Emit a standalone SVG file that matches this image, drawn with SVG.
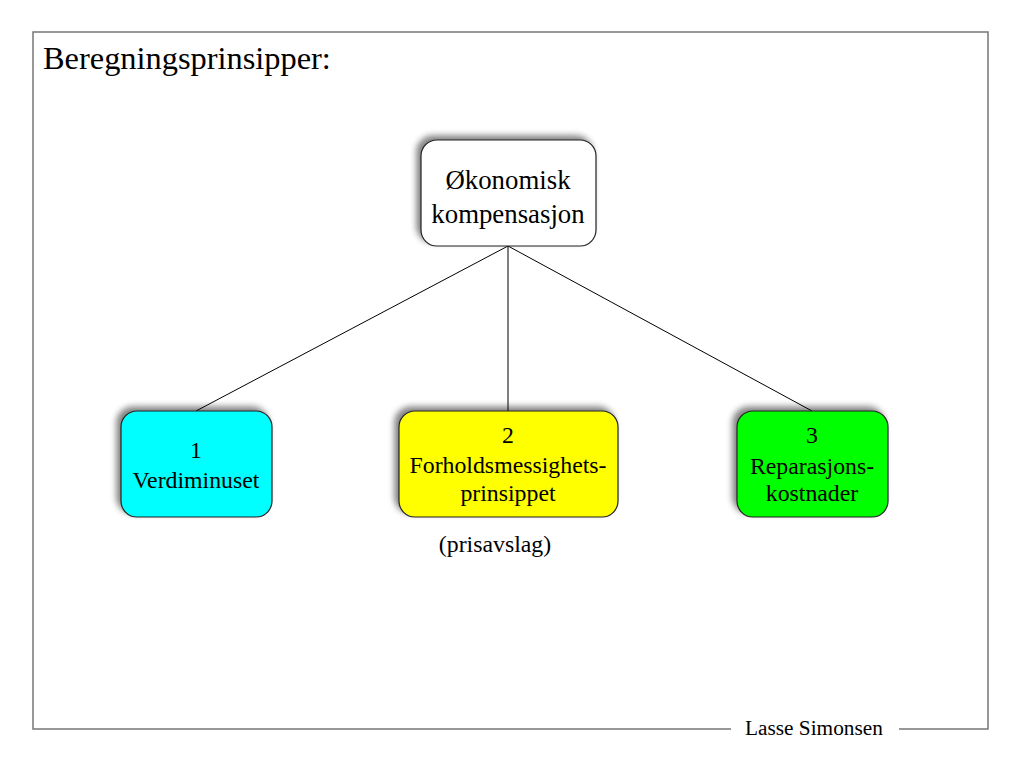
<svg xmlns="http://www.w3.org/2000/svg" width="1023" height="762" viewBox="0 0 1023 762">
<defs>
<style>
.conn{stroke:#000;stroke-width:1;fill:none}
.frame{stroke:#777;stroke-width:1.5;fill:none}
.node{stroke:#222;stroke-width:1.2}
.nt{font-size:23.8px;text-anchor:middle}
</style>
<filter id="sh" x="-20%" y="-20%" width="140%" height="140%">
<feGaussianBlur in="SourceAlpha" stdDeviation="3"/>
<feOffset dx="-4" dy="-4" result="b"/>
<feComponentTransfer><feFuncA type="linear" slope="0.5"/></feComponentTransfer>
<feMerge><feMergeNode/><feMergeNode in="SourceGraphic"/></feMerge>
</filter>
</defs>
<rect width="1023" height="762" fill="#fff"/>
<path class="frame" d="M731 729 H33 V32 H988 V729 H899"/>
<g font-family="'Liberation Serif', 'Times New Roman', 'DejaVu Serif', serif" fill="#000">
<text x="43" y="69" font-size="32.4">Beregningsprinsipper:</text>
<text x="745" y="735" font-size="21.3">Lasse Simonsen</text>
<g id="connectors">
<line class="conn" x1="508" y1="246" x2="196" y2="411"/>
<line class="conn" x1="508" y1="246" x2="508" y2="411"/>
<line class="conn" x1="508" y1="246" x2="812" y2="411"/>
</g>
<g id="top">
<rect class="node" x="421" y="140" width="175" height="106" rx="16" fill="#fff" filter="url(#sh)"/>
<text x="508" y="189" font-size="26.8" text-anchor="middle">Økonomisk</text>
<text x="508" y="223" font-size="26.8" text-anchor="middle">kompensasjon</text>
</g>
<g id="n1">
<rect class="node" x="121" y="411" width="151" height="106" rx="16" fill="#00ffff" filter="url(#sh)"/>
<text class="nt" x="196" y="458">1</text>
<text class="nt" x="196" y="488">Verdiminuset</text>
</g>
<g id="n2">
<rect class="node" x="399" y="411" width="219" height="106" rx="16" fill="#ffff00" filter="url(#sh)"/>
<text class="nt" x="508" y="443">2</text>
<text class="nt" x="508" y="473">Forholdsmessighets-</text>
<text class="nt" x="508" y="501">prinsippet</text>
</g>
<text x="495" y="552" font-size="23.8" text-anchor="middle">(prisavslag)</text>
<g id="n3">
<rect class="node" x="737" y="411" width="151" height="106" rx="16" fill="#00ff00" filter="url(#sh)"/>
<text class="nt" x="812" y="443">3</text>
<text class="nt" x="812" y="474">Reparasjons-</text>
<text class="nt" x="812" y="501">kostnader</text>
</g>
</g>
</svg>
